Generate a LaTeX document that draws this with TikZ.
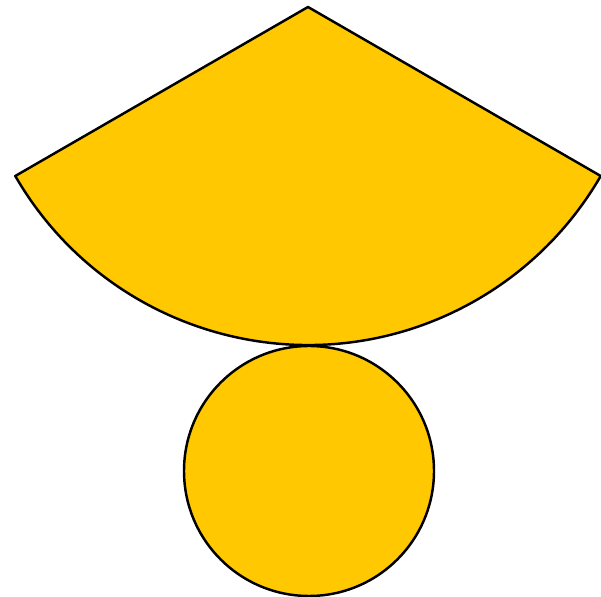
\documentclass[tikz,border=0pt]{standalone}
\usepackage{xcolor}
\usetikzlibrary{calc}
\definecolor{conegold}{HTML}{FFC800}
\tikzset{netpart/.style={fill=conegold,draw=black,line width=1.4pt,line join=round}}

\begin{document}
\begin{tikzpicture}[x=0.02cm,y=0.02cm]
    \useasboundingbox (0,0) rectangle (601,597);
    % lateral surface (sector)
    \draw[netpart] (308,590) -- ++(210:338) arc (210:330:338) -- cycle;
    % base
    \draw[netpart] (309,126) circle (125);
\end{tikzpicture}
\end{document}
